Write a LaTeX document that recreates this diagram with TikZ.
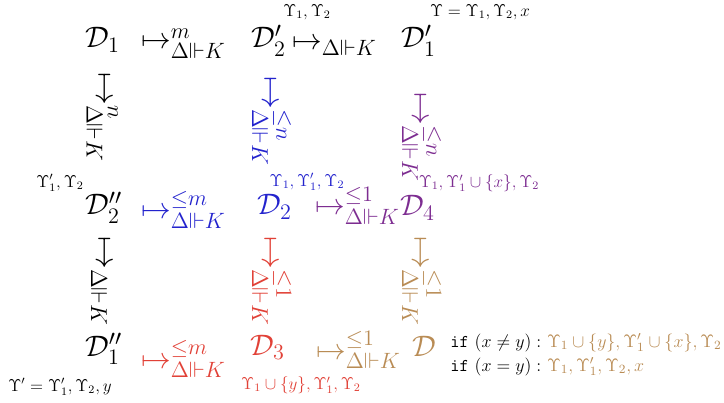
\RequirePackage{fix-cm}
\documentclass[tikz,border=0pt]{standalone}
\usepackage{amssymb}
\DeclareMathSizes{20.74}{20.74}{15.5}{11}
\definecolor{dblue}{RGB}{35,35,205}
\definecolor{dpurple}{RGB}{125,45,145}
\definecolor{dred}{RGB}{225,65,55}
\definecolor{dtan}{RGB}{185,140,85}
\tikzset{
  obj/.style={font=\huge, anchor=base west, inner sep=0pt},
  ctx/.style={font=\large, inner sep=0pt},
  harr/.style={font=\huge, anchor=base west, inner sep=0pt},
  varr/.style={font=\fontsize{23}{28}\selectfont, anchor=base west, inner sep=0pt, rotate=-90},
  cond/.style={font=\fontsize{12.6}{15}\selectfont, anchor=base west, inner sep=0pt},
}
\begin{document}
\begin{tikzpicture}[x=0.7pt, y=-0.7pt]
\useasboundingbox (0,0) rectangle (724,403);
% first row
\node[obj] (d1) at (85,48) {$\mathcal{D}_1$};
\node[harr] (a1) at (141,49) {$\mapsto^{m}_{\Delta\Vdash K}$};
\node[obj] (d2p) at (251,48) {$\mathcal{D}'_2$};
\node[harr] (a2) at (292,50) {$\mapsto_{\Delta\Vdash K}$};
\node[obj] (d1p) at (401,48) {$\mathcal{D}'_1$};
\node[ctx] (c2p) at (307,12) {$\Upsilon_1,\Upsilon_2$};
\node[ctx] (c1p) at (480,12) {$\Upsilon=\Upsilon_1,\Upsilon_2,x$};
% down from first row
\node[varr] (v1) at (96,72) {$\mapsto^{n}_{\Delta\Vdash K}$};
\node[varr, dblue] (v2) at (262,76) {$\mapsto^{\le n}_{\Delta\Vdash K}$};
\node[varr, dpurple] (v3) at (412,92) {$\mapsto^{\le n}_{\Delta\Vdash K}$};
% second row
\node[obj] (d2pp) at (85,215) {$\mathcal{D}''_2$};
\node[harr, dblue] (a3) at (141,219) {$\mapsto^{\le m}_{\Delta\Vdash K}$};
\node[obj, dblue] (d2) at (257,215) {$\mathcal{D}_2$};
\node[harr, dpurple] (a4) at (315,215) {$\mapsto^{\le 1}_{\Delta\Vdash K}$};
\node[obj, dpurple] (d4) at (400,216) {$\mathcal{D}_4$};
\node[ctx] (c2pp) at (60,183) {$\Upsilon'_1,\Upsilon_2$};
\node[ctx, dblue] (c2) at (307,182) {$\Upsilon_1,\Upsilon'_1,\Upsilon_2$};
\node[ctx, dpurple] (c4) at (479,183) {$\Upsilon_1,\Upsilon'_1\cup\{x\},\Upsilon_2$};
% down from second row
\node[varr] (v4) at (96,236) {$\mapsto_{\Delta\Vdash K}$};
\node[varr, dred] (v5) at (262,236) {$\mapsto^{\le 1}_{\Delta\Vdash K}$};
\node[varr, dtan] (v6) at (412,236) {$\mapsto^{\le 1}_{\Delta\Vdash K}$};
% third row
\node[obj] (d1pp) at (85,356) {$\mathcal{D}''_1$};
\node[harr, dred] (a5) at (141,368) {$\mapsto^{\le m}_{\Delta\Vdash K}$};
\node[obj, dred] (d3) at (250,355) {$\mathcal{D}_3$};
\node[harr, dtan] (a6) at (316,359) {$\mapsto^{\le 1}_{\Delta\Vdash K}$};
\node[obj, dtan] (d) at (412,357) {$\mathcal{D}$};
\node[ctx] (c1pp) at (60,387) {$\Upsilon'=\Upsilon'_1,\Upsilon_2,y$};
\node[ctx, dred] (c3) at (301,385) {$\Upsilon_1\cup\{y\},\Upsilon'_1,\Upsilon_2$};
\node[cond] (ifa) at (450,347) {\texttt{if} $(x\neq y):$ \textcolor{dtan}{$\Upsilon_1\cup\{y\},\Upsilon'_1\cup\{x\},\Upsilon_2$}};
\node[cond] (ifb) at (450,371) {\texttt{if} $(x=y):$ \textcolor{dtan}{$\Upsilon_1,\Upsilon'_1,\Upsilon_2,x$}};
\end{tikzpicture}
\end{document}
